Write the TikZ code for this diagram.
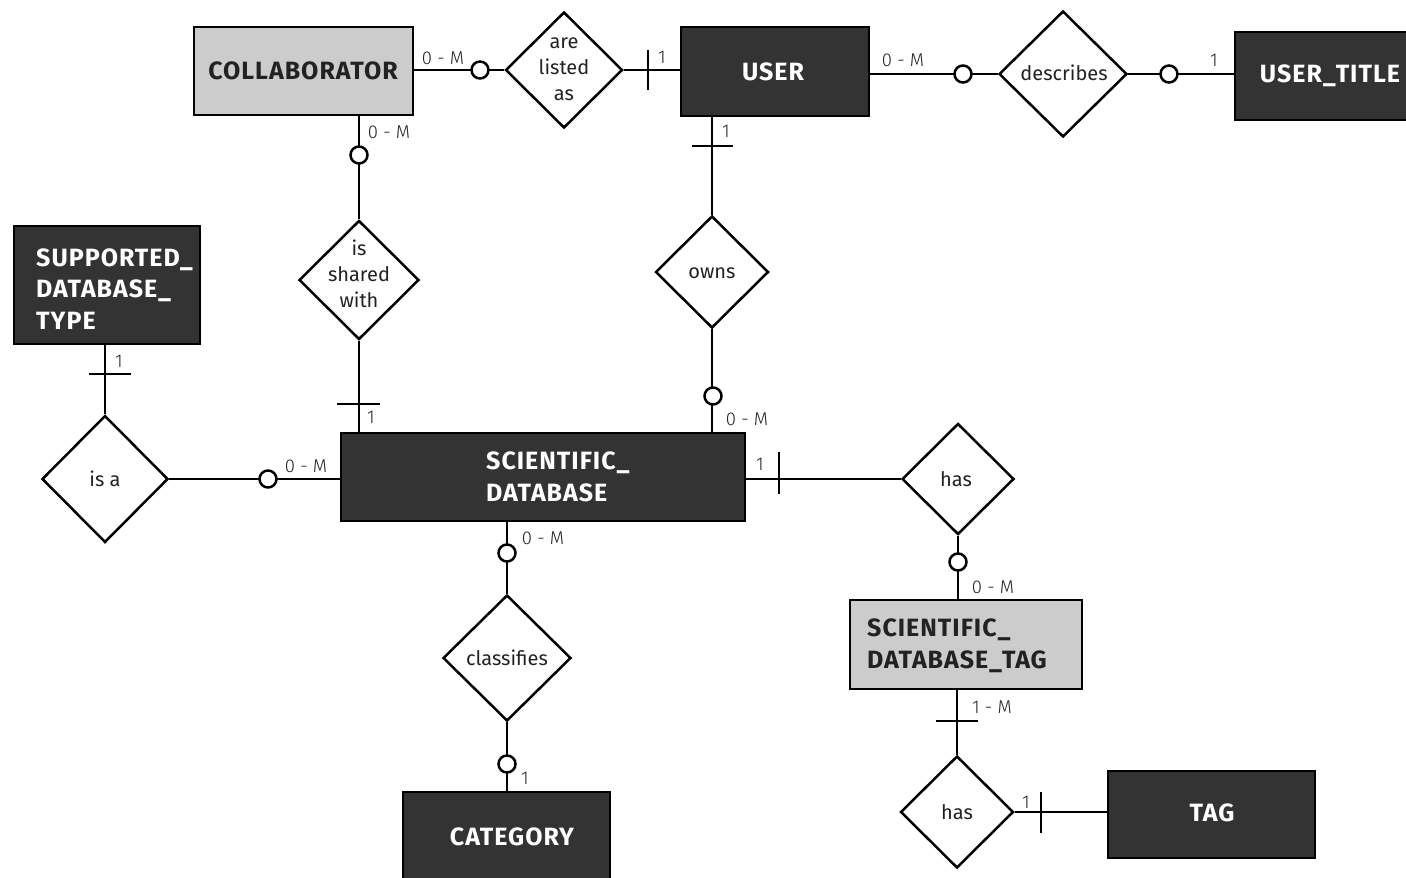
\documentclass[tikz,border=0pt]{standalone}
\usepackage{fontspec}
\setmainfont{Fira Sans}
\newfontfamily\entfont[LetterSpace=4]{Fira Sans}
\newfontfamily\lightfont{Fira Sans Light}
\usetikzlibrary{shapes.geometric}
\definecolor{darkfill}{HTML}{333333}
\definecolor{lightfill}{HTML}{CCCCCC}
\definecolor{darktext}{HTML}{222222}
\tikzset{
  ent/.style={draw=black, line width=2.5pt, fill=darkfill, inner sep=0pt},
  entg/.style={ent, fill=lightfill},
  etext/.style={text=white, font=\entfont\bfseries\fontsize{25}{31.5}\selectfont, align=left, inner sep=0pt},
  etextg/.style={etext, text=darktext},
  rel/.style={draw=black, diamond, aspect=1, line width=2.5pt, fill=white, inner sep=0pt},
  rtext/.style={font=\fontsize{20}{26}\selectfont, align=center, inner sep=0pt, text=darktext},
  card/.style={font=\lightfont\fontsize{18.5}{18.5}\selectfont, inner sep=0pt, text=darktext},
  conn/.style={line width=2.5pt},
  zero/.style={circle, draw=black, line width=2.5pt, fill=white, minimum size=17pt, inner sep=0pt},
}
\begin{document}
\begin{tikzpicture}[x=1pt,y=-1pt]
\useasboundingbox (0,0) rectangle (1406,878);

% entities
\node[entg, minimum width=219pt, minimum height=88pt] (collab) at (303.5,71) {};
\node[etextg] (tcollab) at (303,71) {COLLABORATOR};
\node[ent, minimum width=188pt, minimum height=89pt] (user) at (775,71.5) {};
\node[etext] (tuser) at (773,72) {USER};
\node[ent, minimum width=184pt, minimum height=88pt] (utitle) at (1327,76) {};
\node[etext] (tutitle) at (1330,76) {USER\_TITLE};
\node[ent, minimum width=186pt, minimum height=118pt] (sdtype) at (107,285) {};
\node[etext, anchor=west] (tsdtype) at (36,289) {SUPPORTED\_\\DATABASE\_\\TYPE};
\node[ent, minimum width=404pt, minimum height=88pt] (scidb) at (543,477) {};
\node[etext, anchor=west] (tscidb) at (486,477) {SCIENTIFIC\_\\DATABASE};
\node[entg, minimum width=232pt, minimum height=89pt] (sdtag) at (966,644.5) {};
\node[etextg, anchor=west] (tsdtag) at (867,646) {SCIENTIFIC\_\\DATABASE\_TAG};
\node[ent, minimum width=207pt, minimum height=98pt] (category) at (506.5,841) {};
\node[etext] (tcategory) at (512,837) {CATEGORY};
\node[ent, minimum width=207pt, minimum height=87pt] (tag) at (1211.5,814.5) {};
\node[etext] (ttag) at (1212,813) {TAG};

% relationships
\node[rel, minimum width=117pt, minimum height=116pt] (listed) at (564,70) {};
\node[rtext] (tlisted) at (564,69) {are\\listed\\as};
\node[rel, minimum width=128pt, minimum height=126pt] (describes) at (1063,74) {};
\node[rtext] (tdescribes) at (1064,73) {describes};
\node[rel, minimum width=120pt, minimum height=119pt] (shared) at (359,280) {};
\node[rtext] (tshared) at (359,274) {is\\shared\\with};
\node[rel, minimum width=113pt, minimum height=112pt] (owns) at (712,272) {};
\node[rtext] (towns) at (712,273) {owns};
\node[rel, minimum width=126pt, minimum height=127pt] (isa) at (105,479) {};
\node[rtext] (tisa) at (105,479) {is a};
\node[rel, minimum width=112pt, minimum height=111pt] (has1) at (958,479) {};
\node[rtext] (thas1) at (956,479) {has};
\node[rel, minimum width=128pt, minimum height=126pt] (classifies) at (507,658) {};
\node[rtext] (tclassifies) at (507,658) {classifies};
\node[rel, minimum width=113pt, minimum height=112pt] (has2) at (957,812) {};
\node[rtext] (thas2) at (957,812) {has};

% connectors
\draw[conn] (listed.west -| collab.east) -- (listed.west);
\draw[conn] (listed.east) -- (listed.east -| user.west);
\draw[conn] (describes.west -| user.east) -- (describes.west);
\draw[conn] (describes.east) -- (describes.east -| utitle.west);
\draw[conn] (shared.north |- collab.south) -- (shared.north);
\draw[conn] (shared.south) -- (shared.south |- scidb.north);
\draw[conn] (owns.north |- user.south) -- (owns.north);
\draw[conn] (owns.south) -- (owns.south |- scidb.north);
\draw[conn] (isa.north |- sdtype.south) -- (isa.north);
\draw[conn] (isa.east) -- (isa.east -| scidb.west);
\draw[conn] (has1.west -| scidb.east) -- (has1.west);
\draw[conn] (has1.south) -- (has1.south |- sdtag.north);
\draw[conn] (classifies.north |- scidb.south) -- (classifies.north);
\draw[conn] (classifies.south) -- (classifies.south |- category.north);
\draw[conn] (has2.north |- sdtag.south) -- (has2.north);
\draw[conn] (has2.east) -- (has2.east -| tag.west);

% one-bars
\draw[conn] (648,50) -- (648,90);
\draw[conn] (337,404) -- (380,404);
\draw[conn] (692,146) -- (733,146);
\draw[conn] (89,374) -- (131,374);
\draw[conn] (779,452) -- (779,494);
\draw[conn] (936,721) -- (978,721);
\draw[conn] (1041,792) -- (1041,833);

% zero-circles
\node[zero] (z1) at (480,70) {};
\node[zero] (z2) at (963,74) {};
\node[zero] (z3) at (1169,74) {};
\node[zero] (z4) at (359,155) {};
\node[zero] (z5) at (713,396) {};
\node[zero] (z6) at (268,479) {};
\node[zero] (z7) at (958,562) {};
\node[zero] (z8) at (507,553) {};
\node[zero] (z9) at (507,764) {};

% cardinalities
\node[card] (c1) at (443,58) {0 - M};
\node[card] (c2) at (662,57) {1};
\node[card] (c3) at (903,60) {0 - M};
\node[card] (c4) at (1214,60) {1};
\node[card] (c5) at (389,132) {0 - M};
\node[card] (c6) at (371,417) {1};
\node[card] (c7) at (726,131) {1};
\node[card] (c8) at (747,419) {0 - M};
\node[card] (c9) at (119,361) {1};
\node[card] (c10) at (306,466) {0 - M};
\node[card] (c11) at (760,464) {1};
\node[card] (c12) at (993,587) {0 - M};
\node[card] (c13) at (543,538) {0 - M};
\node[card] (c14) at (525,778) {1};
\node[card] (c15) at (992,707) {1 - M};
\node[card] (c16) at (1026,802) {1};
\end{tikzpicture}
\end{document}
